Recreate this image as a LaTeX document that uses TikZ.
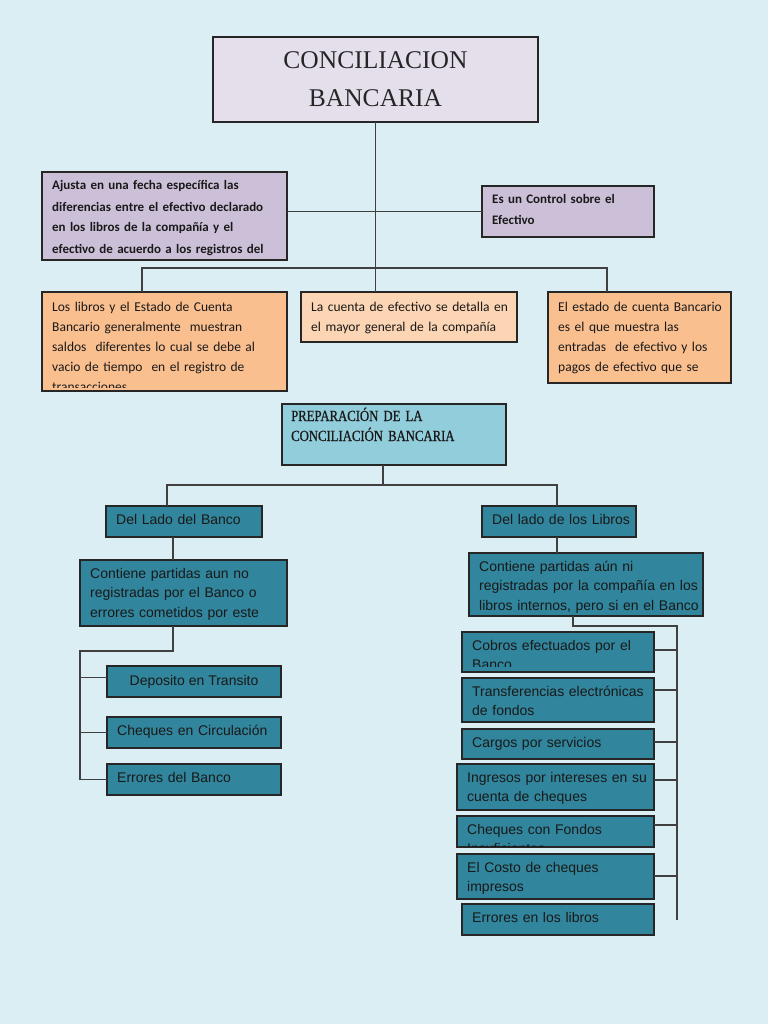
\documentclass[tikz,border=0pt]{standalone}
\usepackage{fontspec}
\setmainfont{Liberation Sans}
\newfontfamily\calibri{Carlito}
\newfontfamily\cambria{Liberation Serif}
\newfontfamily\cambriaest[FakeStretch=0.82, FakeBold=0.8]{Liberation Serif}
\usepackage{tikz}
\usetikzlibrary{positioning}
\definecolor{fondo}{HTML}{DAEEF3}
\definecolor{lilaclaro}{HTML}{E5DFEC}
\definecolor{lila}{HTML}{CCC0D9}
\definecolor{naranja}{HTML}{FABF8F}
\definecolor{durazno}{HTML}{FCD5B4}
\definecolor{celeste}{HTML}{92CDDC}
\definecolor{azul}{HTML}{31859C}

\begin{document}
\begin{tikzpicture}[
    x=1pt, y=-1pt,
    caja/.style={draw=black!85, line width=1.1pt, anchor=north west, inner sep=0pt, outer sep=0pt},
    lilabox/.style={caja, fill=lila},
    naranjabox/.style={caja, fill=naranja},
    duraznobox/.style={caja, fill=durazno},
    celestebox/.style={caja, fill=celeste},
    azulbox/.style={caja, fill=azul},
    txt/.style={anchor=base west, inner sep=0pt, text width=300pt, align=left, text=black!90},
    lilatxt/.style={txt, xshift=10pt, yshift=-18pt, font=\calibri\bfseries\fontsize{13}{21}\selectfont},
    naranjatxt/.style={txt, xshift=10pt, yshift=-19pt, font=\calibri\fontsize{13.5}{20}\selectfont},
    preptxt/.style={txt, xshift=9pt, yshift=-17pt, font=\cambriaest\fontsize{15.5}{20}\selectfont},
    azultxt/.style={txt, xshift=10pt, yshift=-18pt, font=\fontsize{14}{19.5}\selectfont},
    link/.style={draw=black!75, line width=1.2pt}
]
    \fill[fondo] (0,0) rectangle (768,1024);
    \useasboundingbox (0,0) rectangle (768,1024);

    % Titulo
    \node[caja, fill=lilaclaro, minimum height=85pt, text width=325pt, align=center, text=black!85,
          font=\cambria\fontsize{25.5}{38}\selectfont] (titulo) at (213,37) {CONCILIACION\\BANCARIA};

    % Definicion
    \node[lilabox, minimum width=245pt, minimum height=88pt,
          label={[lilatxt]north west:{Ajusta en una fecha específica las\\diferencias entre el efectivo declarado\\en los libros de la compañía y el\\efectivo de acuerdo a los registros del}}] (ajusta) at (42,172) {};
    \node[lilabox, minimum width=172pt, minimum height=51pt,
          label={[lilatxt]north west:{Es un Control sobre el\\Efectivo}}] (control) at (482,186) {};

    % Caracteristicas
    \node[naranjabox, minimum width=245pt, minimum height=99pt] (libros) at (42,292) {};
    \begin{scope}
        \clip (libros.north west) rectangle ([yshift=4pt]libros.south east);
        \node[naranjatxt] (librostxt) at (libros.north west) {Los libros y el Estado de Cuenta\\Bancario generalmente\ \ muestran\\saldos\ \ diferentes lo cual se debe al\\vacio de tiempo\ \ en el registro de\\transacciones};
    \end{scope}
    \node[duraznobox, minimum width=216pt, minimum height=50pt,
          label={[naranjatxt]north west:{La cuenta de efectivo se detalla en\\el mayor general de la compañía}}] (cuenta) at (301,292) {};
    \node[naranjabox, minimum width=183pt, minimum height=91pt,
          label={[naranjatxt]north west:{El estado de cuenta Bancario\\es el que muestra las\\entradas\ \ de efectivo y los\\pagos de efectivo que se}}] (estado) at (548,292) {};

    % Preparacion
    \node[celestebox, minimum width=224pt, minimum height=61pt,
          label={[preptxt]north west:{PREPARACIÓN DE LA\\CONCILIACIÓN BANCARIA}}] (prep) at (282,404) {};
    \node[azulbox, minimum width=156pt, minimum height=31pt,
          label={[azultxt]north west:{Del Lado del Banco}}] (banco) at (106,506) {};
    \node[azulbox, minimum width=154pt, minimum height=31pt,
          label={[azultxt]north west:{Del lado de los Libros}}] (lado) at (482,506) {};

    % Lado del banco
    \node[azulbox, minimum width=207pt, minimum height=66pt,
          label={[azultxt]north west:{Contiene partidas aun no\\registradas por el Banco o\\errores cometidos por este}}] (contA) at (80,560) {};
    \node[azulbox, minimum width=174pt, minimum height=31pt, text=black!90,
          font=\fontsize{14}{19.5}\selectfont] (depo) at (107,666) {Deposito en Transito};
    \node[azulbox, minimum width=174pt, minimum height=31pt,
          label={[azultxt]north west:{Cheques en Circulación}}] (cheqC) at (107,717) {};
    \node[azulbox, minimum width=174pt, minimum height=31pt,
          label={[azultxt]north west:{Errores del Banco}}] (errB) at (107,764) {};

    % Lado de los libros
    \node[azulbox, minimum width=234pt, minimum height=63pt,
          label={[azultxt]north west:{Contiene partidas aún ni\\registradas por la compañía en los\\libros internos, pero si en el Banco}}] (contB) at (469,553) {};
    \node[azulbox, minimum width=192pt, minimum height=40pt] (cobros) at (462,632) {};
    \begin{scope}
        \clip (cobros.north west) rectangle ([yshift=6pt]cobros.south east);
        \node[azultxt] (cobrostxt) at (cobros.north west) {Cobros efectuados por el\\Banco};
    \end{scope}
    \node[azulbox, minimum width=192pt, minimum height=44pt,
          label={[azultxt]north west:{Transferencias electrónicas\\de fondos}}] (transf) at (462,678) {};
    \node[azulbox, minimum width=192pt, minimum height=30pt,
          label={[azultxt]north west:{Cargos por servicios}}] (cargos) at (462,729) {};
    \node[azulbox, minimum width=197pt, minimum height=46pt,
          label={[azultxt]north west:{Ingresos por intereses en su\\cuenta de cheques}}] (ingresos) at (457,764) {};
    \node[azulbox, minimum width=197pt, minimum height=31pt] (fondos) at (457,816) {};
    \begin{scope}
        \clip (fondos.north west) rectangle ([yshift=1pt]fondos.south east);
        \node[azultxt] (fondostxt) at (fondos.north west) {Cheques con Fondos\\Insuficientes};
    \end{scope}
    \node[azulbox, minimum width=197pt, minimum height=45pt,
          label={[azultxt]north west:{El Costo de cheques\\impresos}}] (costo) at (457,854) {};
    \node[azulbox, minimum width=192pt, minimum height=31pt,
          label={[azultxt]north west:{Errores en los libros}}] (errL) at (462,904) {};

    % Conectores superiores
    \draw[link] (titulo.south) -- (titulo.south |- cuenta.north);
    \draw[link] (control.west -| ajusta.east) -- (control.west);
    \draw[link] ([xshift=100pt]libros.north west) -- ++(0,-24) -| ([xshift=59pt]estado.north west);

    % Conectores de preparacion
    \coordinate (cruce) at (383,485);
    \draw[link] (prep.south -| cruce) -- (cruce);
    \draw[link] ([xshift=61pt]banco.north west) |- (cruce) -| ([xshift=75pt]lado.north west);

    % Rama del banco
    \coordinate (izq) at (80,651);
    \draw[link] ([xshift=67pt]banco.south west) -- ([xshift=67pt]banco.south west |- contA.north);
    \draw[link] ([xshift=93pt]contA.south west) |- (izq) |- (errB.west);
    \draw[link] (izq) |- ([yshift=4pt]depo.west);
    \draw[link] (izq) |- (cheqC.west);

    % Rama de los libros
    \coordinate (der) at (677,626);
    \draw[link] ([xshift=75pt]lado.south west) -- ([xshift=75pt]lado.south west |- contB.north);
    \draw[link] ([xshift=104pt]contB.south west) |- (der) -- (der |- errL.east);
    \foreach \n/\s in {cobros/18, transf/12, cargos/13, ingresos/16, fondos/9, costo/22}
        \draw[link] ([yshift=-\s pt]\n.north east) -| (der);
\end{tikzpicture}
\end{document}
